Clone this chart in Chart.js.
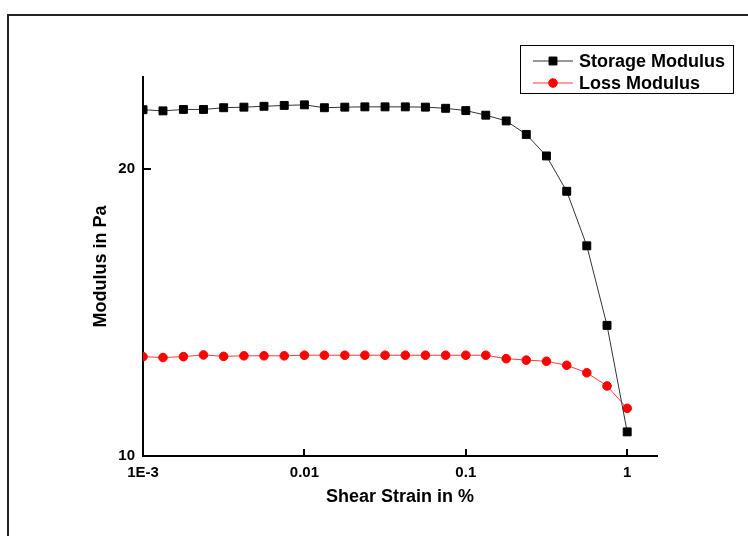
<!DOCTYPE html>
<html>
<head>
<meta charset="utf-8">
<script src="https://cdn.jsdelivr.net/npm/chart.js@4.4.1/dist/chart.umd.min.js"></script>
<style>
  html, body { margin: 0; padding: 0; background: #fff; }
  #wrap { position: relative; width: 748px; height: 536px; overflow: hidden; }
  #frame { position: absolute; left: 7px; top: 14px; width: 800px; height: 600px;
           border-top: 2px solid #222; border-left: 2px solid #222; }
  canvas { position: absolute; left: 0; top: 0; }
</style>
</head>
<body>
<div id="wrap">
  <div id="frame"></div>
  <canvas id="chart" width="748" height="536"></canvas>
</div>
<script>
// shear strain (%) - 8 points per decade
var strain = [0.001, 0.00133, 0.00178, 0.00237, 0.00316, 0.00422, 0.00562, 0.0075,
              0.01, 0.0133, 0.0178, 0.0237, 0.0316, 0.0422, 0.0562, 0.075,
              0.1, 0.133, 0.178, 0.237, 0.316, 0.422, 0.562, 0.75, 1.0];
var storageModulus = [22.06, 22.02, 22.07, 22.07, 22.13, 22.15, 22.18, 22.21,
                      22.23, 22.13, 22.15, 22.16, 22.16, 22.16, 22.15, 22.11,
                      22.03, 21.87, 21.67, 21.2, 20.45, 19.22, 17.32, 14.55, 10.84];
var lossModulus = [13.46, 13.43, 13.46, 13.52, 13.47, 13.49, 13.49, 13.49,
                   13.51, 13.51, 13.51, 13.51, 13.51, 13.51, 13.51, 13.51,
                   13.51, 13.51, 13.39, 13.34, 13.30, 13.16, 12.90, 12.44, 11.66];
var xTicks = [0.001, 0.01, 0.1, 1];
var xTickLabels = ['1E-3', '0.01', '0.1', '1'];
var yTicks = [10, 20];

var FONT = 'Arial, "Liberation Sans", sans-serif';

function toPoints(ys) {
    return strain.map(function (x, i) { return { x: x, y: ys[i] }; });
}

// inward tick marks, like the original plot
var innerTicks = {
    id: 'innerTicks',
    afterDraw: function (chart) {
        var ctx = chart.ctx, xs = chart.scales.x, ys = chart.scales.y;
        var area = chart.chartArea;
        ctx.save();
        ctx.strokeStyle = '#000';
        ctx.lineWidth = 2;
        xTicks.forEach(function (v) {
            var px = Math.round(xs.getPixelForValue(v));
            ctx.beginPath();
            ctx.moveTo(px, area.bottom);
            ctx.lineTo(px, area.bottom - 7);
            ctx.stroke();
        });
        yTicks.forEach(function (v) {
            var py = Math.round(ys.getPixelForValue(v));
            ctx.beginPath();
            ctx.moveTo(area.left, py);
            ctx.lineTo(area.left + 8, py);
            ctx.stroke();
        });
        ctx.restore();
    }
};

// boxed legend in the top right corner
var boxLegend = {
    id: 'boxLegend',
    afterDraw: function (chart) {
        var ctx = chart.ctx;
        ctx.save();
        ctx.strokeStyle = '#000';
        ctx.lineWidth = 1;
        ctx.strokeRect(520.5, 45.5, 213, 48);
        ctx.font = 'bold 18px ' + FONT;
        ctx.textBaseline = 'middle';
        chart.data.datasets.forEach(function (ds, i) {
            var y = 61 + i * 22;
            ctx.strokeStyle = ds.borderColor;
            ctx.lineWidth = 1;
            ctx.beginPath();
            ctx.moveTo(533, y);
            ctx.lineTo(573, y);
            ctx.stroke();
            ctx.fillStyle = ds.pointBackgroundColor;
            ctx.strokeStyle = ds.pointBorderColor;
            Chart.helpers.drawPoint(ctx, { pointStyle: ds.pointStyle, radius: ds.pointRadius, borderWidth: 1 }, 553, y);
            ctx.fillStyle = '#000';
            ctx.fillText(ds.label, 579, y + 1);
        });
        ctx.restore();
    }
};

var ctx = document.getElementById('chart').getContext('2d');
var chart = new Chart(ctx, {
    type: 'line',
    data: {
        datasets: [{
            label: 'Storage Modulus',
            data: toPoints(storageModulus),
            borderColor: '#333',
            borderWidth: 1,
            pointStyle: 'rect',
            pointRadius: 5.6,
            pointBackgroundColor: '#000',
            pointBorderColor: '#000',
            pointBorderWidth: 1,
            tension: 0
        }, {
            label: 'Loss Modulus',
            data: toPoints(lossModulus),
            borderColor: '#ff3b3b',
            borderWidth: 1,
            pointStyle: 'circle',
            pointRadius: 4.3,
            pointBackgroundColor: '#ff0000',
            pointBorderColor: '#ff0000',
            pointBorderWidth: 1,
            tension: 0
        }]
    },
    options: {
        responsive: false,
        animation: false,
        layout: { padding: { left: 90, top: 77, right: 91, bottom: 28 } },
        plugins: {
            legend: { display: false },
            tooltip: { enabled: false }
        },
        scales: {
            x: {
                type: 'logarithmic',
                min: 0.001,
                max: 1.53,
                grid: { display: false },
                border: { display: true, color: '#000', width: 2 },
                afterBuildTicks: function (scale) {
                    scale.ticks = xTicks.map(function (v) { return { value: v }; });
                },
                afterFit: function (scale) { scale.height = 52; },
                ticks: {
                    autoSkip: false,
                    maxRotation: 0,
                    padding: 0,
                    color: '#000',
                    font: { family: FONT, size: 15, weight: 'bold' },
                    callback: function (v) {
                        var i = xTicks.indexOf(v);
                        return i >= 0 ? xTickLabels[i] : '';
                    }
                },
                title: {
                    display: true,
                    text: 'Shear Strain in %',
                    color: '#000',
                    padding: 0,
                    font: { family: FONT, size: 18, weight: 'bold' }
                }
            },
            y: {
                type: 'linear',
                min: 10,
                max: 23.2,
                grid: { display: false },
                border: { display: true, color: '#000', width: 2 },
                afterBuildTicks: function (scale) {
                    scale.ticks = yTicks.map(function (v) { return { value: v }; });
                },
                afterFit: function (scale) { scale.width = 53; },
                ticks: {
                    padding: 0,
                    color: '#000',
                    font: { family: FONT, size: 15, weight: 'bold' }
                },
                title: {
                    display: true,
                    text: 'Modulus in Pa',
                    color: '#000',
                    padding: 0,
                    font: { family: FONT, size: 18, weight: 'bold' }
                }
            }
        }
    },
    plugins: [innerTicks, boxLegend]
});
</script>
</body>
</html>
